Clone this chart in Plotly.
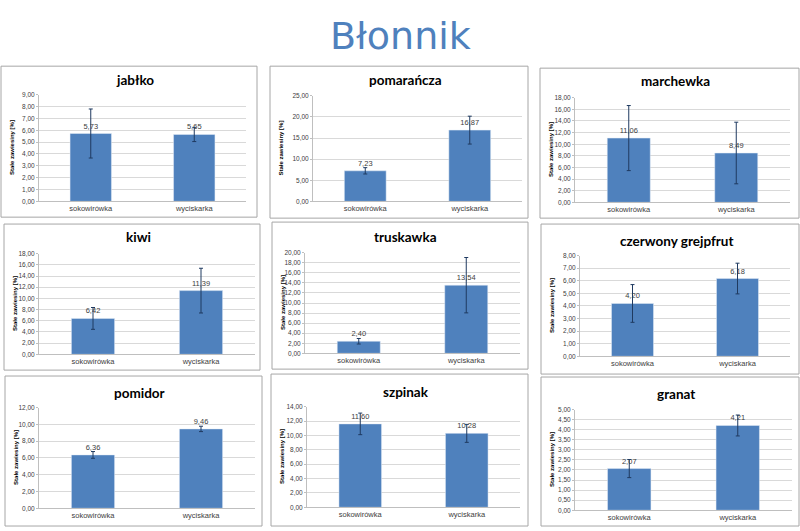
import plotly.graph_objects as go

# ---- data ----
categories = ["sokowirówka", "wyciskarka"]
fruits = ["jabłko", "pomarańcza", "marchewka",
          "kiwi", "truskawka", "czerwony grejpfrut",
          "pomidor", "szpinak", "granat"]
values = {
    "jabłko": [5.73, 5.65],
    "pomarańcza": [7.23, 16.87],
    "marchewka": [11.06, 8.49],
    "kiwi": [6.42, 11.39],
    "truskawka": [2.40, 13.54],
    "czerwony grejpfrut": [4.20, 6.18],
    "pomidor": [6.36, 9.46],
    "szpinak": [11.60, 10.28],
    "granat": [2.07, 4.21],
}
errors = {
    "jabłko": [2.07, 0.60],
    "pomarańcza": [0.75, 3.3],
    "marchewka": [5.6, 5.3],
    "kiwi": [1.95, 4.0],
    "truskawka": [0.55, 5.5],
    "czerwony grejpfrut": [1.5, 1.22],
    "pomidor": [0.4, 0.32],
    "szpinak": [1.5, 1.25],
    "granat": [0.45, 0.52],
}
y_max = {"jabłko": 9, "pomarańcza": 25, "marchewka": 18, "kiwi": 18, "truskawka": 20,
         "czerwony grejpfrut": 8, "pomidor": 12, "szpinak": 14, "granat": 5}
y_step = {"jabłko": 1, "pomarańcza": 5, "marchewka": 2, "kiwi": 2, "truskawka": 2,
          "czerwony grejpfrut": 1, "pomidor": 2, "szpinak": 2, "granat": 0.5}
main_title = "Błonnik"
y_title = "Stałe zawiesiny [%]"

# ---- layout geometry (pixels) ----
W, H = 800, 531
boxes = [(1, 63, 257, 216), (270, 63, 528, 217), (540, 65, 799, 217),
         (4, 223, 260, 371), (272, 221, 528, 370), (541, 223, 799, 375),
         (5, 377, 262, 529), (271, 375, 528, 529), (541, 378, 799, 529)]
plots = [(39, 246, 92, 200), (313, 522, 93, 200), (575, 790, 95, 201),
         (39, 255, 253, 355), (305, 520, 252, 354), (580, 790, 255, 357),
         (39, 255, 409, 511), (307, 520, 408, 510), (575, 792, 411, 513)]
title_y = [77, 77, 78, 236, 236, 240, 394, 393, 395]

BAR = "#4F81BD"
ERR = "#1F3A60"
GRID = "#D9D9D9"
TXT = "#404040"
FONT = "Liberation Sans"

fig = go.Figure()
layout = dict(width=W, height=H, autosize=False, margin=dict(l=0, r=0, t=0, b=0),
              paper_bgcolor="white", plot_bgcolor="white", separators=",.",
              showlegend=False, shapes=[], annotations=[])

for i, name in enumerate(fruits):
    k = "" if i == 0 else str(i + 1)
    bx0, by0, bx1, by1 = boxes[i]
    px0, px1, py0, py1 = plots[i]
    fig.add_trace(go.Bar(
        x=categories, y=values[name], width=0.4, marker_color=BAR,
        error_y=dict(type="data", array=errors[name], color=ERR, thickness=1, width=2),
        texttemplate="%{y:.2f}", textposition="outside", cliponaxis=False,
        textfont=dict(size=7.5, color=TXT, family=FONT),
        xaxis="x" + k, yaxis="y" + k, hoverinfo="skip"))
    layout["xaxis" + k] = dict(
        domain=[px0 / W, px1 / W], anchor="y" + k, showgrid=False,
        showline=True, linecolor="#BFBFBF", linewidth=1,
        tickfont=dict(size=7.5, color=TXT, family=FONT), fixedrange=True)
    layout["yaxis" + k] = dict(
        domain=[1 - py1 / H, 1 - py0 / H], anchor="x" + k,
        range=[0, y_max[name]], dtick=y_step[name], tick0=0, tickformat=".2f",
        showgrid=True, gridcolor=GRID, gridwidth=1, zeroline=False,
        showline=True, linecolor="#BFBFBF", linewidth=1,
        ticks="outside", ticklen=2, tickcolor="#BFBFBF",
        tickfont=dict(size=6.5, color=TXT, family=FONT), fixedrange=True)
    # panel border
    layout["shapes"].append(dict(type="rect", xref="paper", yref="paper",
                                 x0=bx0 / W, x1=bx1 / W, y0=1 - by1 / H, y1=1 - by0 / H,
                                 line=dict(color="#A6A6A6", width=1), fillcolor="rgba(0,0,0,0)",
                                 layer="below"))
    # panel title
    layout["annotations"].append(dict(
        text="<b>" + name + "</b>", xref="paper", yref="paper",
        x=((bx0 + bx1) / 2 + 6) / W, y=1 - title_y[i] / H, xanchor="center", yanchor="middle",
        showarrow=False, font=dict(size=13.5, color="#000000", family="Lato")))
    # y axis title
    layout["annotations"].append(dict(
        text="<b>" + y_title + "</b>", xref="paper", yref="paper",
        x=(bx0 + 11) / W, y=1 - ((py0 + py1) / 2) / H, xanchor="center", yanchor="middle",
        textangle=-90, showarrow=False, font=dict(size=6, color="#000000", family=FONT)))

layout["annotations"].append(dict(
    text=main_title, xref="paper", yref="paper", x=400 / W, y=1 - 32 / H,
    xanchor="center", yanchor="middle", showarrow=False,
    font=dict(size=38, color="#4F81BD", family="DejaVu Sans")))

fig.update_layout(**layout)
fig.write_html("out.html", config={"displayModeBar": False},
               post_script="document.body.style.margin='0';document.body.style.overflow='hidden';")
